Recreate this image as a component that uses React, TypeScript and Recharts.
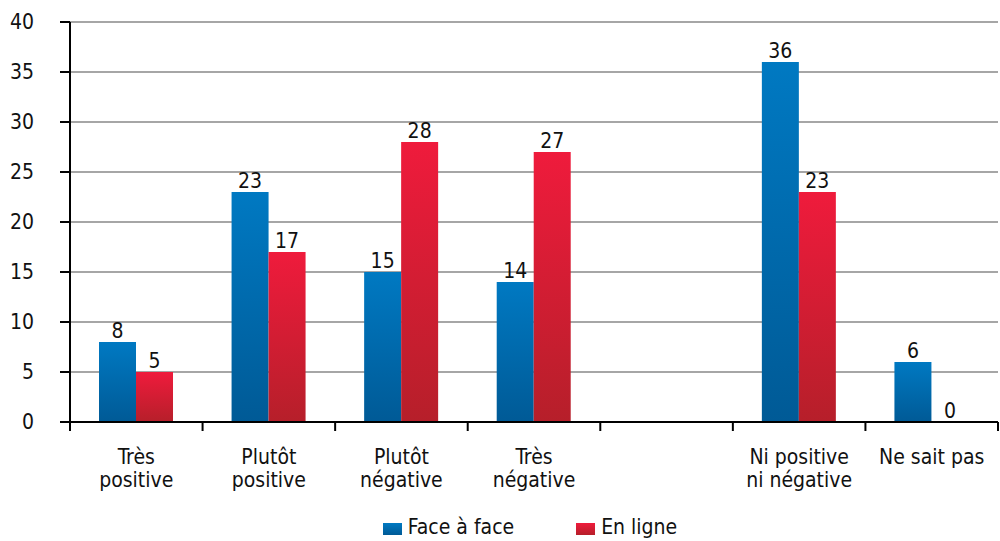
import React from 'react';
import { BarChart, Bar, XAxis, YAxis, CartesianGrid, Legend, LabelList } from 'recharts';

const categories = ['Très\npositive', 'Plutôt\npositive', 'Plutôt\nnégative', 'Très\nnégative', '', 'Ni positive\nni négative', 'Ne sait pas'];
const faceAFace = [8, 23, 15, 14, null, 36, 6];
const enLigne = [5, 17, 28, 27, null, 23, 0];
const yTicks = [0, 5, 10, 15, 20, 25, 30, 35, 40];

const FONT = "'DejaVu Sans Condensed', 'DejaVu Sans', sans-serif";
const FS = 21;
const W = 1000;
const H = 541;
const M = { top: 22, right: 2, left: 0, bottom: 0 };
const Y_AXIS_W = 70;
const PLOT_BOTTOM = 422;
const HALF_BAND = (W - M.left - M.right - Y_AXIS_W) / categories.length / 2;

const data = categories.map((name, i) => ({
  name,
  face: faceAFace[i],
  ligne: enLigne[i],
}));

const CategoryTick = ({ x, payload, index }: any) => {
  const lines = String(payload.value).split('\n');
  return (
    <g>
      <line x1={x - HALF_BAND} x2={x - HALF_BAND} y1={PLOT_BOTTOM} y2={PLOT_BOTTOM + 9} stroke="#000" strokeWidth={2} />
      {index === categories.length - 1 && (
        <line x1={x + HALF_BAND} x2={x + HALF_BAND} y1={PLOT_BOTTOM} y2={PLOT_BOTTOM + 9} stroke="#000" strokeWidth={2} />
      )}
      {lines.map((l, i) => (
        <text key={i} x={x} y={PLOT_BOTTOM + 42 + i * 23} textAnchor="middle" fill="#111" fontSize={FS} fontFamily={FONT}>
          {l}
        </text>
      ))}
    </g>
  );
};

const ValueLabel = ({ x, y, width, value }: any) => {
  if (value === null || value === undefined) return null;
  return (
    <text x={x + width / 2} y={y - 4} textAnchor="middle" fill="#111" fontSize={FS} fontFamily={FONT}>
      {value}
    </text>
  );
};

const LegendContent = () => (
  <div style={{ display: 'flex', justifyContent: 'center', paddingLeft: 62, paddingTop: 13, fontFamily: FONT, fontSize: FS, color: '#111' }}>
    <div style={{ display: 'flex', alignItems: 'center', marginRight: 62 }}>
      <span style={{ width: 19, height: 12, marginTop: 4, marginRight: 6, background: 'linear-gradient(#0079c2, #005a96)' }} />
      Face à face
    </div>
    <div style={{ display: 'flex', alignItems: 'center' }}>
      <span style={{ width: 19, height: 12, marginTop: 4, marginRight: 6, background: 'linear-gradient(#ef1b3c, #b61f2a)' }} />
      En ligne
    </div>
  </div>
);

export default function App() {
  return (
    <div style={{ position: 'absolute', left: 0, top: 0, width: W, height: H, background: '#fff' }}>
      <BarChart width={W} height={H} data={data} margin={M} barGap={0} barCategoryGap={0}>
        <defs>
          <linearGradient id="gradFace" x1="0" y1="0" x2="0" y2="1">
            <stop offset="0%" stopColor="#0079c2" />
            <stop offset="100%" stopColor="#005a96" />
          </linearGradient>
          <linearGradient id="gradLigne" x1="0" y1="0" x2="0" y2="1">
            <stop offset="0%" stopColor="#ef1b3c" />
            <stop offset="100%" stopColor="#b61f2a" />
          </linearGradient>
        </defs>
        <CartesianGrid vertical={false} stroke="#a6a6a6" strokeWidth={2} />
        <XAxis
          dataKey="name"
          axisLine={{ stroke: '#000', strokeWidth: 2 }}
          tickLine={false}
          tick={<CategoryTick />}
          interval={0}
          height={80}
        />
        <YAxis
          width={Y_AXIS_W}
          domain={[0, 40]}
          ticks={yTicks}
          axisLine={{ stroke: '#000', strokeWidth: 2 }}
          tickLine={{ stroke: '#000', strokeWidth: 2 }}
          tickSize={10}
          tickMargin={26}
          tick={{ fill: '#111', fontSize: FS, fontFamily: FONT }}
        />
        <Legend verticalAlign="bottom" content={<LegendContent />} wrapperStyle={{ height: 39 }} />
        <Bar dataKey="face" name="Face à face" fill="url(#gradFace)" barSize={37} isAnimationActive={false}>
          <LabelList dataKey="face" content={<ValueLabel />} />
        </Bar>
        <Bar dataKey="ligne" name="En ligne" fill="url(#gradLigne)" barSize={37} minPointSize={0.01} isAnimationActive={false}>
          <LabelList dataKey="ligne" content={<ValueLabel />} />
        </Bar>
      </BarChart>
    </div>
  );
}
